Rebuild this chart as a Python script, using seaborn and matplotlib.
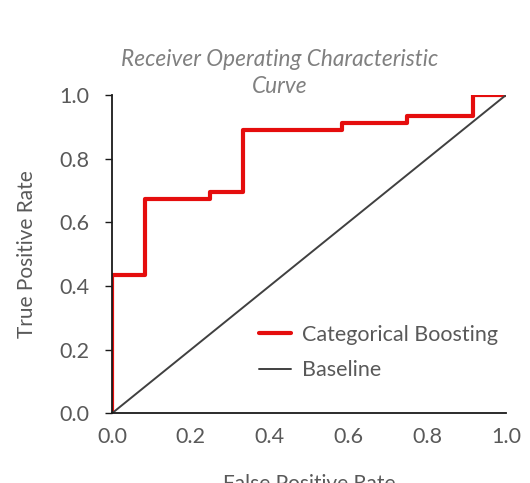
import matplotlib
matplotlib.use("Agg")
import matplotlib.pyplot as plt
import seaborn as sns
import pandas as pd

# ROC curve points (readout)
fpr = [0.0, 0.0, 0.083, 0.083, 0.25, 0.25, 0.333, 0.333, 0.583, 0.583, 0.75, 0.75, 0.917, 0.917, 1.0]
tpr = [0.0, 0.435, 0.435, 0.674, 0.674, 0.696, 0.696, 0.891, 0.891, 0.913, 0.913, 0.935, 0.935, 1.0, 1.0]
base_x = [0.0, 1.0]
base_y = [0.0, 1.0]
ticks = [0.0, 0.2, 0.4, 0.6, 0.8, 1.0]
tick_labels = ["0.0", "0.2", "0.4", "0.6", "0.8", "1.0"]

sns.set_style("white")
plt.rcParams['font.family'] = ['Lato', 'DejaVu Sans']

fig = plt.figure(figsize=(5.3, 4.83), dpi=100)
ax = fig.add_axes([0.2113, 0.1443, 0.7434, 0.659])

roc = pd.DataFrame({"FPR": fpr, "TPR": tpr})
bl = pd.DataFrame({"FPR": base_x, "TPR": base_y})
sns.lineplot(data=roc, x="FPR", y="TPR", sort=False, estimator=None, ax=ax, color="#e50d0d",
             linewidth=3.0, label="Categorical Boosting")
sns.lineplot(data=bl, x="FPR", y="TPR", sort=False, estimator=None, ax=ax, color="#404040",
             linewidth=1.4, label="Baseline")

ax.set_xlim(0, 1)
ax.set_ylim(0, 1)
ax.set_xticks(ticks)
ax.set_xticklabels(tick_labels)
ax.set_yticks(ticks)
ax.set_yticklabels(tick_labels)
for s in ["top", "right"]:
    ax.spines[s].set_visible(False)
for s in ["left", "bottom"]:
    ax.spines[s].set_color("#1a1a1a")
    ax.spines[s].set_linewidth(1.3)
ax.tick_params(axis="y", length=5, width=1.0, color="#1a1a1a", direction="out",
               labelsize=15.5, labelcolor="#595959", pad=11, left=True)
ax.tick_params(axis="x", length=0, labelsize=15.5, labelcolor="#595959", pad=10, bottom=True)
ax.set_ylabel("True Positive Rate", fontsize=15, color="#595959", labelpad=16)
ax.set_xlabel("False Positive Rate", fontsize=15, color="#595959", labelpad=19)

fig.text(0.528, 0.848, "Receiver Operating Characteristic\nCurve", ha="center", va="center",
         fontsize=16.3, style="italic", color="#808080", linespacing=1.35)

leg = ax.legend(loc="upper left", bbox_to_anchor=(0.352, 0.305), frameon=False,
                fontsize=15.5, handlelength=1.45, handletextpad=0.55, labelspacing=0.72,
                borderaxespad=0)
for t in leg.get_texts():
    t.set_color("#595959")

fig.savefig("out.png", dpi=100)
